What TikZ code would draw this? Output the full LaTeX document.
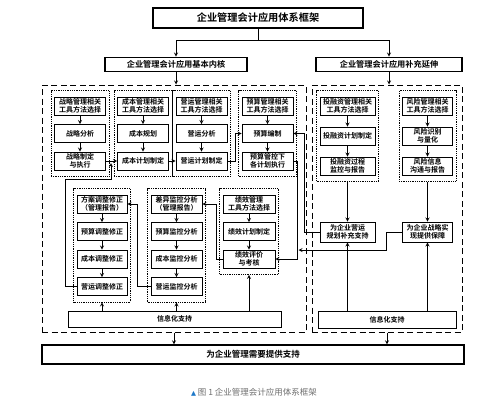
\documentclass[tikz,border=0pt]{standalone}
\usepackage{fontspec}
\usepackage{xcolor}
\newfontfamily\cjk{Noto Sans CJK SC}[BoldFont={Noto Sans CJK SC Bold}]
\newfontfamily\symfont{DejaVu Sans}
\usetikzlibrary{arrows, fit}
\definecolor{capgray}{RGB}{110,110,110}
\definecolor{capblue}{RGB}{30,120,200}
\tikzstyle{head} = [rectangle, draw=black, line width=1.3pt, text centered, font=\fontsize{8.2}{10}\selectfont\cjk\bfseries]
\tikzstyle{box} = [rectangle, draw=black, line width=0.9pt, minimum width=51pt, minimum height=18pt, inner sep=1pt, align=center, font=\fontsize{7}{8}\selectfont\cjk\bfseries]
\tikzstyle{group} = [draw=black, densely dotted, line width=0.8pt, inner xsep=3pt, inner ysep=6pt]
\tikzstyle{region} = [draw=black, dash pattern=on 6pt off 3.5pt, line width=1pt]
\tikzstyle{arrow} = [thick,->,>=stealth]

\begin{document}
\begin{tikzpicture}[x=1pt, y=-1pt, node distance=27.5pt]
    \useasboundingbox (0,0) rectangle (500,405);
    \node (frame) [head, minimum width=210pt, minimum height=20pt, font=\fontsize{10.2}{12}\selectfont\cjk\bfseries] at (258,18) {企业管理会计应用体系框架};
    \node (core) [head, minimum width=142pt, minimum height=13pt] at (176,64.5) {企业管理会计应用基本内核};
    \node (ext) [head, minimum width=146pt, minimum height=13pt] at (389,64.5) {企业管理会计应用补充延伸};
    \node (coreArea) [region, minimum width=264pt, minimum height=247pt] at (174,208.5) {};
    \node (extArea) [region, minimum width=150pt, minimum height=247pt] at (387,208.5) {};
    \node (need) [head, minimum width=422pt, minimum height=19pt, font=\fontsize{8.5}{10}\selectfont\cjk\bfseries] at (253,354.5) {为企业管理需要提供支持};

    \node (st1) [box] at (80,106) {战略管理相关\\工具方法选择};
    \node (st2) [box, below of=st1] {战略分析};
    \node (st3) [box, below of=st2] {战略制定\\与执行};
    \node (co1) [box] at (143,106) {成本管理相关\\工具方法选择};
    \node (co2) [box, below of=co1] {成本规划};
    \node (co3) [box, below of=co2] {成本计划制定};
    \node (op1) [box] at (201.5,106) {营运管理相关\\工具方法选择};
    \node (op2) [box, below of=op1] {营运分析};
    \node (op3) [box, below of=op2] {营运计划制定};
    \node (bu1) [box] at (267.5,106) {预算管理相关\\工具方法选择};
    \node (bu2) [box, below of=bu1] {预算编制};
    \node (bu3) [box, below of=bu2] {预算管控下\\各计划执行};

    \node (ad1) [box, minimum width=50pt] at (102,204) {方案调整修正\\（管理报告）};
    \node (ad2) [box, minimum width=50pt, below of=ad1] {预算调整修正};
    \node (ad3) [box, minimum width=50pt, below of=ad2] {成本调整修正};
    \node (ad4) [box, minimum width=50pt, below of=ad3] {营运调整修正};
    \node (mo1) [box] at (176.5,204) {差异监控分析\\（管理报告）};
    \node (mo2) [box, below of=mo1] {预算监控分析};
    \node (mo3) [box, below of=mo2] {成本监控分析};
    \node (mo4) [box, below of=mo3] {营运监控分析};
    \node (pe1) [box, minimum width=52pt] at (249,204) {绩效管理\\工具方法选择};
    \node (pe2) [box, minimum width=52pt, below of=pe1] {绩效计划制定};
    \node (pe3) [box, minimum width=52pt, below of=pe2] {绩效评价\\与考核};

    \node (in1) [box, minimum width=55pt] at (347.5,106) {投融资管理相关\\工具方法选择};
    \node (in2) [box, minimum width=55pt, node distance=30pt, below of=in1] {投融资计划制定};
    \node (in3) [box, minimum width=55pt, node distance=30pt, below of=in2] {投融资过程\\监控与报告};
    \node (ri1) [box, minimum width=50pt] at (427.5,106) {风险管理相关\\工具方法选择};
    \node (ri2) [box, minimum width=50pt, node distance=30pt, below of=ri1] {风险识别\\与量化};
    \node (ri3) [box, minimum width=50pt, node distance=30pt, below of=ri2] {风险信息\\沟通与报告};
    \node (sup1) [box, minimum width=55pt, minimum height=20pt] at (347.5,232) {为企业营运\\规划补充支持};
    \node (sup2) [box, minimum width=50pt, minimum height=20pt] at (427.5,232) {为企业战略实\\现提供保障};

    \node (infoL) [box, minimum width=213pt, minimum height=16pt] at (174.5,319) {信息化支持};
    \node (infoR) [box, minimum width=138pt, minimum height=17pt] at (387,319.5) {信息化支持};

    \node (gSt) [group, fit=(st1)(st3)] {};
    \node (gCo) [group, fit=(co1)(co3)] {};
    \node (gOp) [group, fit=(op1)(op3)] {};
    \node (gBu) [group, fit=(bu1)(bu3)] {};
    \node (gAd) [group, fit=(ad1)(ad4)] {};
    \node (gMo) [group, fit=(mo1)(mo4)] {};
    \node (gPe) [group, fit=(pe1)(pe3)] {};
    \node (gIn) [group, fit=(in1)(in3)] {};
    \node (gRi) [group, fit=(ri1)(ri3)] {};

    \coordinate (stJoin) at (111,163);
    \coordinate (buJoin) at (298.5,250);

    \node (caption) [font=\fontsize{8.5}{10}\selectfont\cjk, text=capgray] at (254,392) {{\fontsize{6.5}{8}\symfont\textcolor{capblue}{▲}} 图 1 企业管理会计应用体系框架};

    \draw [arrow] (frame.south) -- ++(0,12) -| (core.north);
    \draw [arrow] (frame.south) -- ++(0,12) -| (ext.north);
    \draw [arrow] (core.south) -- (core.south |- coreArea.north);
    \draw [arrow] (ext.south) -- (ext.south |- extArea.north);
    \draw [arrow] (coreArea.south) -- (coreArea.south |- need.north);
    \draw [arrow] (extArea.south) -- (extArea.south |- need.north);

    \draw [arrow] (st1) -- (st2);
    \draw [arrow] (st2) -- (st3);
    \draw [arrow] (co1) -- (co2);
    \draw [arrow] (co2) -- (co3);
    \draw [arrow] (op1) -- (op2);
    \draw [arrow] (op2) -- (op3);
    \draw [arrow] (bu1) -- (bu2);
    \draw [arrow] (bu2) -- (bu3);
    \draw [arrow] (ad1) -- (ad2);
    \draw [arrow] (ad2) -- (ad3);
    \draw [arrow] (ad3) -- (ad4);
    \draw [arrow] (mo1) -- (mo2);
    \draw [arrow] (mo2) -- (mo3);
    \draw [arrow] (mo3) -- (mo4);
    \draw [arrow] (pe1) -- (pe2);
    \draw [arrow] (pe2) -- (pe3);
    \draw [arrow] (in1) -- (in2);
    \draw [arrow] (in2) -- (in3);
    \draw [arrow] (ri1) -- (ri2);
    \draw [arrow] (ri2) -- (ri3);

    \draw [arrow] (st3) -- (co3);
    \draw [arrow] (co3) -- (op3);
    \draw [arrow] (op3.east) -- ++(8,0) |- (bu2.west);
    \draw [arrow] (bu3.east) -- ++(4,0) |- (pe3.east);
    \draw [arrow] (pe3.west) -- ++(-6,0) |- (mo1.east);
    \draw [arrow] (mo4.west) -- ++(-13,0) |- (ad1.east);
    \draw [arrow] (ad4.west) -| (65,179) -| (stJoin);
    \draw [arrow] (sup1.west) -- ++(-15,0) |- (bu2.east);
    \draw [arrow] (sup2.west) -- ++(-16,0) |- (buJoin);

    \draw [arrow] (gIn.south) -- (sup1.north);
    \draw [arrow] (gRi.south) -- (sup2.north);
    \draw [arrow] (sup1.south |- infoR.north) -- (sup1.south);
    \draw [arrow] (sup2.south |- infoR.north) -- (sup2.south);
    \draw [arrow] (gAd.south |- infoL.north) -- (gAd.south);
    \draw [arrow] (gMo.south |- infoL.north) -- (gMo.south);
    \draw [arrow] (gPe.south |- infoL.north) -- (gPe.south);
\end{tikzpicture}
\end{document}
